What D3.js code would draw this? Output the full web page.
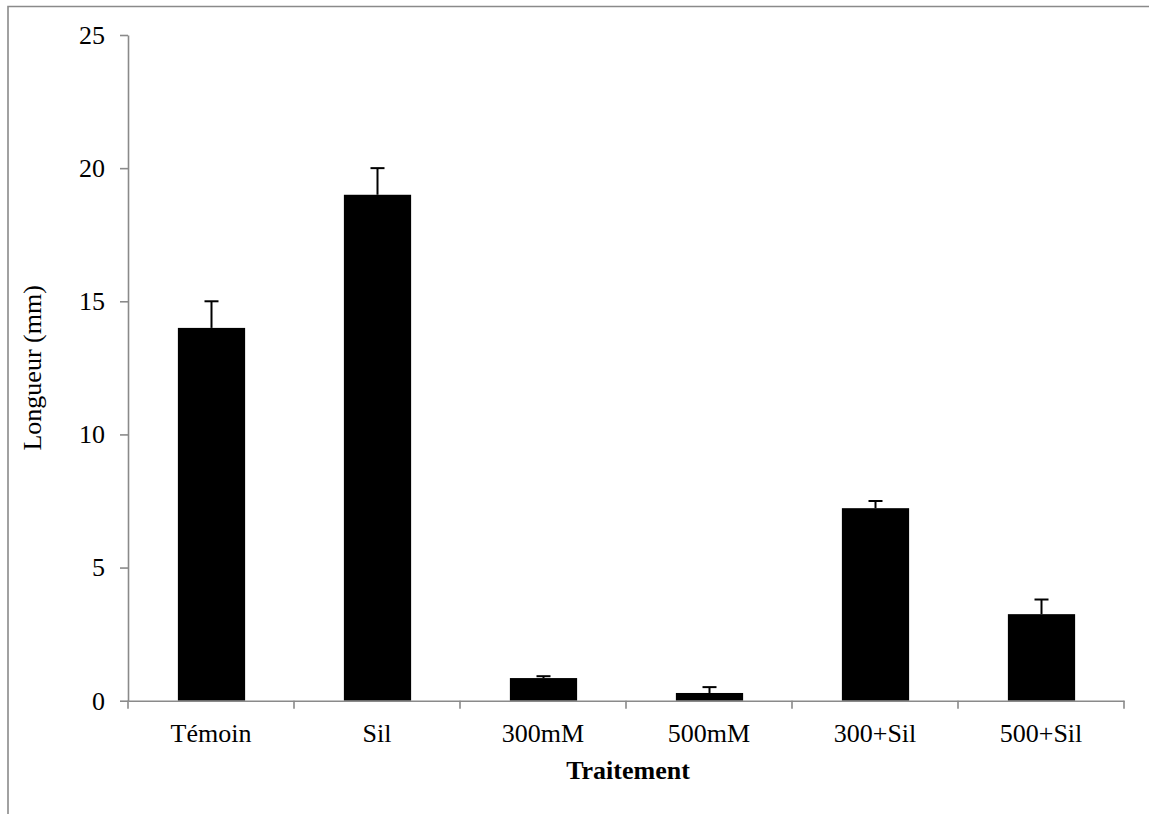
<!DOCTYPE html>
<html>
<head>
<meta charset="utf-8">
<script src="https://cdn.jsdelivr.net/npm/d3@7/dist/d3.min.js"></script>
<style>
  body { margin: 0; background: #fff; }
  svg { display: block; }
  text { font-family: "Liberation Serif", "Times New Roman", serif; }
</style>
</head>
<body>
<svg id="chart" width="1149" height="814"></svg>
<script>
const categories = ["Témoin", "Sil", "300mM", "500mM", "300+Sil", "500+Sil"];
const values = [14.0, 19.0, 0.85, 0.29, 7.23, 3.25];
const errors = [1.0, 1.0, 0.07, 0.22, 0.27, 0.55];
const yTicks = [0, 5, 10, 15, 20, 25];
const xTitle = "Traitement";
const yTitle = "Longueur (mm)";

const svg = d3.select("#chart");
const W = 1149, H = 814;
const m = { left: 128, right: 1124, top: 35, bottom: 700.7 };
const axisColor = "#8a8a8a";

// outer frame (top & left)
svg.append("path")
  .attr("d", `M8,${H} L8,6.5 L${W},6.5`)
  .attr("fill", "none").attr("stroke", axisColor).attr("stroke-width", 1.6);

const x = d3.scaleBand().domain(categories).range([m.left, m.right]).paddingInner(0).paddingOuter(0);
const y = d3.scaleLinear().domain([0, 25]).range([m.bottom, m.top]);

const bw = x.bandwidth() * 0.405;

// bars
svg.append("g").selectAll("rect").data(categories).join("rect")
  .attr("x", d => x(d) + x.bandwidth() / 2 - bw / 2 + 0.5)
  .attr("width", bw)
  .attr("y", (d, i) => y(values[i]))
  .attr("height", (d, i) => y(0) - y(values[i]))
  .attr("fill", "#000");

// error bars
const eg = svg.append("g").attr("stroke", "#000").attr("stroke-width", 2);
categories.forEach((c, i) => {
  const cx = x(c) + x.bandwidth() / 2 + 0.5;
  eg.append("line").attr("x1", cx).attr("x2", cx)
    .attr("y1", y(values[i])).attr("y2", y(values[i] + errors[i]));
  eg.append("line").attr("x1", cx - 7).attr("x2", cx + 7)
    .attr("y1", y(values[i] + errors[i])).attr("y2", y(values[i] + errors[i]));
});

// y axis
const yAxis = svg.append("g").attr("transform", `translate(${m.left},0)`)
  .call(d3.axisLeft(y).tickValues(yTicks).tickSize(8).tickPadding(15).tickSizeOuter(0));
yAxis.select(".domain").attr("stroke", axisColor).attr("stroke-width", 1.6);
yAxis.selectAll(".tick line").attr("stroke", axisColor).attr("stroke-width", 1.6);
yAxis.selectAll(".tick text").attr("font-size", 26).attr("fill", "#000")
  .attr("font-family", "'Liberation Serif', 'Times New Roman', serif");

// x axis
const xAxis = svg.append("g").attr("transform", `translate(0,${m.bottom})`)
  .call(d3.axisBottom(x).tickSize(0).tickSizeOuter(0));
xAxis.select(".domain").attr("stroke", axisColor).attr("stroke-width", 1.6);
xAxis.selectAll(".tick text").attr("font-size", 26).attr("fill", "#000")
  .attr("dy", null).attr("y", 41)
  .attr("font-family", "'Liberation Serif', 'Times New Roman', serif");
// boundary ticks
const bounds = categories.map(c => x(c)).concat([m.right]);
svg.append("g").selectAll("line").data(bounds).join("line")
  .attr("x1", d => d).attr("x2", d => d)
  .attr("y1", m.bottom).attr("y2", m.bottom + 8)
  .attr("stroke", axisColor).attr("stroke-width", 1.6);

// titles
svg.append("text").attr("x", (m.left + m.right) / 2 + 2).attr("y", 779)
  .attr("text-anchor", "middle").attr("font-size", 26).attr("font-weight", "bold")
  .text(xTitle);
svg.append("text").attr("transform", `translate(41,${(m.top + m.bottom) / 2}) rotate(-90)`)
  .attr("text-anchor", "middle").attr("font-size", 26)
  .text(yTitle);
</script>
</body>
</html>
